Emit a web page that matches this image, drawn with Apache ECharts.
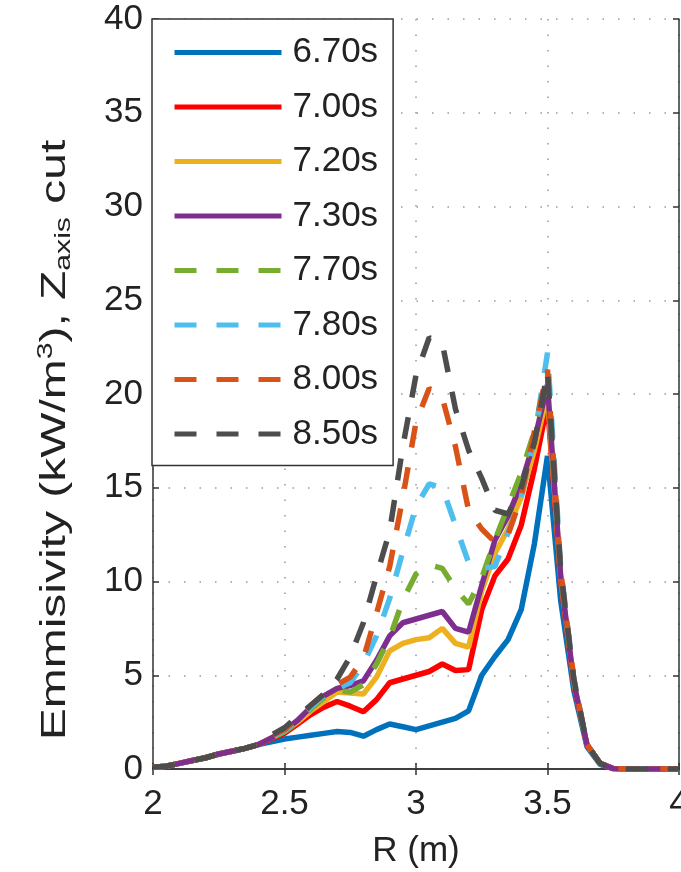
<!DOCTYPE html>
<html>
<head>
<meta charset="utf-8">
<script src="https://cdn.jsdelivr.net/npm/echarts@6/dist/echarts.min.js"></script>
<style>
html,body{margin:0;padding:0;background:#fff;}
#chart{width:681px;height:872px;}
</style>
</head>
<body>
<div id="chart"></div>
<script>
// R positions (m)
const R = [2.00,2.05,2.10,2.15,2.20,2.25,2.30,2.35,2.40,2.45,2.50,2.55,2.60,2.65,2.70,2.75,2.80,2.85,2.90,2.95,3.00,3.05,3.10,3.15,3.20,3.25,3.30,3.35,3.40,3.45,3.50,3.55,3.60,3.65,3.70,3.75,3.80,3.85,3.90,3.95,4.00];

const seriesNames = ['6.70s','7.00s','7.20s','7.30s','7.70s','7.80s','8.00s','8.50s'];

const e670 = [0.1,0.15,0.3,0.45,0.6,0.8,0.95,1.1,1.3,1.45,1.6,1.7,1.8,1.9,2.0,1.95,1.75,2.1,2.4,2.25,2.1,2.3,2.5,2.7,3.1,5.0,6.0,6.9,8.5,12.0,16.7,9.0,4.2,1.2,0.25,0.02,0,0,0,0,0];
const e700 = [0.1,0.15,0.3,0.45,0.6,0.8,0.95,1.1,1.3,1.6,1.9,2.4,2.9,3.3,3.6,3.35,3.05,3.7,4.6,4.8,5.0,5.2,5.6,5.25,5.3,8.5,10.3,11.2,13.0,16.0,19.5,10.0,4.5,1.3,0.3,0.02,0,0,0,0,0];
const e720 = [0.1,0.15,0.3,0.45,0.6,0.8,0.95,1.1,1.3,1.65,2.0,2.5,3.1,3.6,4.1,4.05,4.0,4.9,6.3,6.7,6.9,7.0,7.5,6.7,6.5,9.5,11.5,12.8,14.5,17.0,20.0,10.2,4.6,1.3,0.3,0.02,0,0,0,0,0];
const e730 = [0.1,0.15,0.3,0.45,0.6,0.8,0.95,1.1,1.3,1.65,2.05,2.6,3.3,3.9,4.3,4.45,4.7,5.8,7.1,7.8,8.0,8.2,8.4,7.5,7.3,9.8,12.2,13.5,15.2,17.5,20.5,10.3,4.6,1.3,0.3,0.02,0,0,0,0,0];
const e770 = [0.1,0.15,0.3,0.45,0.6,0.8,0.95,1.1,1.3,1.65,2.0,2.5,3.2,3.8,4.2,4.1,4.5,5.6,7.0,9.0,10.4,10.9,10.7,9.6,8.8,10.2,12.2,14.0,15.8,18.0,21.0,10.4,4.7,1.3,0.3,0.02,0,0,0,0,0];
const e780 = [0.1,0.15,0.3,0.45,0.6,0.8,0.95,1.1,1.3,1.7,2.05,2.6,3.3,3.9,4.3,4.6,5.6,7.1,9.1,11.6,14.0,15.2,15.0,13.0,11.0,10.7,10.8,12.6,14.5,17.6,22.2,10.8,4.8,1.3,0.3,0.02,0,0,0,0,0];
const e800 = [0.1,0.15,0.3,0.45,0.6,0.8,0.95,1.1,1.3,1.75,2.1,2.7,3.4,4.0,4.5,4.9,5.9,8.3,10.8,14.5,18.5,20.3,19.8,17.2,13.8,12.8,12.1,12.5,14.5,18.0,21.3,10.6,4.8,1.3,0.3,0.02,0,0,0,0,0];
const e850 = [0.1,0.15,0.3,0.45,0.6,0.8,0.95,1.1,1.3,1.8,2.2,2.8,3.4,4.0,4.8,6.0,7.8,10.3,12.7,17.2,21.0,23.0,22.7,19.2,17.0,15.5,13.8,13.6,15.0,17.4,21.2,10.6,4.8,1.3,0.3,0.02,0,0,0,0,0];

const xTicks = [2, 2.5, 3, 3.5, 4];
const yTicks = [0, 5, 10, 15, 20, 25, 30, 35, 40];

const allValues = [e670,e700,e720,e730,e770,e780,e800,e850];
const colors = ['#0072BD','#FF0000','#EDB120','#7E2F8E','#77AC30','#4DBEEE','#D95319','#4D4D4D'];
const dashed = [false,false,false,false,true,true,true,true];

const FONT = '"Liberation Sans", Arial, Helvetica, sans-serif';
const FS = 35;

const series = seriesNames.map((name, i) => ({
  name: name,
  type: 'line',
  xAxisIndex: 0,
  yAxisIndex: 0,
  symbol: 'none',
  showSymbol: false,
  smooth: false,
  data: R.map((r, k) => [r, allValues[i][k]]),
  lineStyle: {
    color: colors[i],
    width: 5.5,
    type: dashed[i] ? [22, 20] : 'solid',
    cap: 'butt'
  },
  itemStyle: { color: colors[i] },
  z: 2 + i
}));

const chart = echarts.init(document.getElementById('chart'), null, {renderer: 'canvas'});
const gridLine = { show: true, lineStyle: { color: '#999999', width: 1.5, type: [1.5, 14] } };
const axisLineStyle = { show: true, lineStyle: { color: '#333', width: 1.5 } };
chart.setOption({
  backgroundColor: '#ffffff',
  animation: false,
  textStyle: { fontFamily: FONT },
  grid: { left: 153, right: 2, top: 19, bottom: 103, containLabel: false, outerBoundsMode: 'none' },
  xAxis: [
    {
      type: 'value', position: 'bottom', min: 2, max: 4, interval: 0.5,
      axisLine: axisLineStyle,
      axisTick: { show: true, inside: true, length: 6, lineStyle: { color: '#333', width: 1.5 } },
      axisLabel: { show: true, fontSize: FS, color: '#222', fontFamily: FONT, margin: 18,
        hideOverlap: false, showMaxLabel: true, showMinLabel: true,
        formatter: v => xTicks.indexOf(v) >= 0 ? String(v) : '' },
      splitLine: gridLine,
      name: 'R (m)', nameLocation: 'middle', nameGap: 65,
      nameTextStyle: { fontSize: FS, color: '#222', fontFamily: FONT }
    },
    {
      type: 'value', position: 'top', min: 2, max: 4, interval: 0.5,
      axisLine: axisLineStyle,
      axisTick: { show: true, inside: true, length: 6, lineStyle: { color: '#333', width: 1.5 } },
      axisLabel: { show: false }, splitLine: { show: false }
    }
  ],
  yAxis: [
    {
      type: 'value', position: 'left', min: 0, max: 40, interval: 5,
      axisLine: axisLineStyle,
      axisTick: { show: true, inside: true, length: 6, lineStyle: { color: '#333', width: 1.5 } },
      axisLabel: { show: true, fontSize: FS, color: '#222', fontFamily: FONT, margin: 10,
        formatter: v => yTicks.indexOf(v) >= 0 ? String(v) : '' },
      splitLine: gridLine
    },
    {
      type: 'value', position: 'right', min: 0, max: 40, interval: 5,
      axisLine: axisLineStyle,
      axisTick: { show: true, inside: true, length: 6, lineStyle: { color: '#333', width: 1.5 } },
      axisLabel: { show: false }, splitLine: { show: false }
    }
  ],
  legend: {
    show: true,
    orient: 'vertical',
    left: 152, top: 19,
    data: seriesNames,
    itemWidth: 107, itemHeight: 14, itemGap: 19.5,
    padding: [16, 15, 14, 20],
    backgroundColor: '#ffffff',
    borderColor: '#333', borderWidth: 1.5, borderRadius: 0,
    itemStyle: { opacity: 0, borderWidth: 0 },
    lineStyle: { width: 5 },
    textStyle: { fontSize: FS, color: '#222', fontFamily: FONT, lineHeight: 34, padding: [0, 0, 0, 6] },
    z: 20
  },
  graphic: [
    {
      type: 'text',
      x: 55, y: 440,
      rotation: Math.PI / 2,
      scaleX: 1.37,
      style: {
        text: 'Emmisivity (kW/m{sup|3}), Z{sub|axis} cut',
        fontSize: FS, fontFamily: FONT, fill: '#222', lineHeight: 40,
        align: 'center', verticalAlign: 'middle',
        rich: {
          sup: { fontSize: 22, fontFamily: FONT, fill: '#222', verticalAlign: 'top', lineHeight: 22 },
          sub: { fontSize: 22, fontFamily: FONT, fill: '#222', verticalAlign: 'bottom', lineHeight: 22 }
        }
      },
      z: 10
    }
  ],
  series: series
});
</script>
</body>
</html>
